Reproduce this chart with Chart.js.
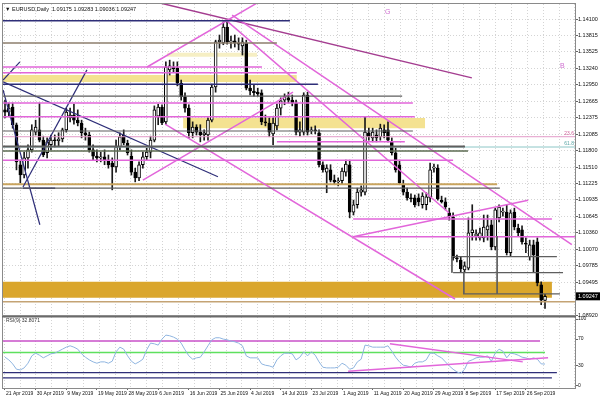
<!DOCTYPE html>
<html><head><meta charset="utf-8">
<script src="https://cdn.jsdelivr.net/npm/chart.js@4.4.1/dist/chart.umd.min.js"></script>
<style>
html,body{margin:0;padding:0;background:#fff;}
body{width:600px;height:401px;position:relative;overflow:hidden;}
canvas{position:absolute;left:0;}
#main{top:0;width:600px;height:319px;}
#rsiC{top:316px;width:600px;height:85px;}
</style></head><body>
<canvas id="main" width="600" height="319"></canvas>
<canvas id="rsiC" width="600" height="85"></canvas>
<script>
// ---------- DATA ----------
const header = ['EURUSD,Daily', 1.09175, 1.09283, 1.09036, 1.09247];
const rsiName = 'RSI(9)';
const xLabels = ['21 Apr 2019','30 Apr 2019','9 May 2019','19 May 2019','28 May 2019','6 Jun 2019','16 Jun 2019','25 Jun 2019','4 Jul 2019','14 Jul 2019','23 Jul 2019','1 Aug 2019','11 Aug 2019','20 Aug 2019','29 Aug 2019','8 Sep 2019','17 Sep 2019','26 Sep 2019'];
const labelEvery = 8;
const yTicks = [1.14100,1.13815,1.13525,1.13240,1.12950,1.12665,1.12375,1.12085,1.11800,1.11510,1.11225,1.10935,1.10645,1.10360,1.10070,1.09785,1.09495,1.08920];
const rsiTicks = [0,30,70,100];

const opens = [1.1251,1.1247,1.1256,1.1225,1.1155,1.1137,1.1167,1.1181,1.1212,1.1216,
1.1198,1.1176,1.1190,1.1198,1.1197,1.1200,1.1216,1.1237,1.1242,1.1233,
1.1228,1.1211,1.1207,1.1181,1.1170,1.1167,1.1169,1.1163,1.1158,1.1151,
1.1186,1.1207,1.1193,1.1170,1.1142,1.1132,1.1155,1.1169,1.1177,1.1198,
1.1240,1.1256,1.1230,1.1321,1.1326,1.1324,1.1298,1.1274,1.1254,1.1211,
1.1221,1.1212,1.1207,1.1207,1.1233,1.1291,1.1370,1.1368,1.1396,1.1370,
1.1372,1.1368,1.1363,1.1368,1.1289,1.1284,1.1282,1.1281,1.1230,1.1228,
1.1209,1.1223,1.1254,1.1268,1.1272,1.1268,1.1263,1.1212,1.1212,1.1277,
1.1214,1.1216,1.1211,1.1155,1.1142,1.1146,1.1128,1.1125,1.1127,1.1142,
1.1155,1.1072,1.1085,1.1107,1.1107,1.1211,1.1202,1.1207,1.1204,1.1216,
1.1216,1.1195,1.1176,1.1155,1.1120,1.1107,1.1097,1.1097,1.1097,1.1085,
1.1085,1.1097,1.1149,1.1149,1.1093,1.1090,1.1071,1.1064,1.0992,1.0988,
1.0971,1.0974,1.1036,1.1030,1.1027,1.1027,1.1041,1.1050,1.1011,1.1062,
1.1072,1.1072,1.1001,1.1072,1.1044,1.1041,1.1018,1.0994,1.1015,1.1020,
1.0945,1.09175];
const highs = [1.1268,1.1263,1.1263,1.1228,1.1163,1.1177,1.1190,1.1225,1.1233,1.1263,
1.1205,1.1202,1.1207,1.1207,1.1211,1.1219,1.1254,1.1254,1.1261,1.1251,
1.1233,1.1219,1.1212,1.1190,1.1181,1.1177,1.1181,1.1172,1.1167,1.1198,
1.1211,1.1216,1.1198,1.1181,1.1149,1.1160,1.1177,1.1184,1.1205,1.1258,
1.1261,1.1260,1.1335,1.1338,1.1335,1.1335,1.1303,1.1281,1.1260,1.1230,
1.1225,1.1225,1.1216,1.1237,1.1296,1.1373,1.1382,1.1405,1.1405,1.1380,
1.1382,1.1377,1.1377,1.1373,1.1303,1.1295,1.1289,1.1286,1.1242,1.1237,
1.1237,1.1261,1.1272,1.1279,1.1282,1.1277,1.1268,1.1230,1.1281,1.1282,
1.1221,1.1223,1.1216,1.1160,1.1155,1.1155,1.1137,1.1132,1.1149,1.1163,
1.1163,1.1093,1.1114,1.1118,1.1239,1.1219,1.1219,1.1216,1.1226,1.1225,
1.1230,1.1202,1.1184,1.1163,1.1128,1.1114,1.1104,1.1102,1.1104,1.1106,
1.1106,1.1158,1.1156,1.1155,1.1100,1.1097,1.1079,1.1071,1.0997,1.0994,
1.0985,1.1062,1.1085,1.1041,1.1044,1.1067,1.1067,1.1058,1.1079,1.1085,
1.1079,1.1085,1.1076,1.1079,1.1051,1.1048,1.1027,1.1023,1.1023,1.1027,
1.0950,1.09283];
const lows = [1.1237,1.1239,1.1219,1.1146,1.1123,1.1132,1.1149,1.1177,1.1207,1.1195,
1.1169,1.1167,1.1181,1.1186,1.1188,1.1195,1.1212,1.1230,1.1226,1.1223,
1.1202,1.1198,1.1177,1.1163,1.1160,1.1160,1.1155,1.1149,1.1111,1.1142,
1.1181,1.1190,1.1172,1.1137,1.1125,1.1127,1.1149,1.1163,1.1167,1.1195,
1.1225,1.1225,1.1225,1.1312,1.1317,1.1293,1.1268,1.1247,1.1202,1.1202,
1.1207,1.1195,1.1198,1.1198,1.1230,1.1282,1.1359,1.1365,1.1366,1.1359,
1.1361,1.1356,1.1347,1.1286,1.1277,1.1275,1.1275,1.1225,1.1223,1.1204,
1.1190,1.1216,1.1242,1.1260,1.1263,1.1258,1.1207,1.1205,1.1207,1.1207,
1.1209,1.1209,1.1151,1.1142,1.1106,1.1125,1.1120,1.1118,1.1120,1.1135,
1.1062,1.1067,1.1079,1.1100,1.1102,1.1198,1.1195,1.1195,1.1198,1.1202,
1.1195,1.1172,1.1142,1.1120,1.1102,1.1093,1.1090,1.1081,1.1083,1.1079,
1.1076,1.1090,1.1142,1.1093,1.1088,1.1076,1.1058,1.0988,1.0985,1.0967,
1.0967,1.0971,1.1023,1.1023,1.1023,1.1020,1.1023,1.1006,1.1006,1.1055,
1.1065,1.0997,1.0995,1.1041,1.1030,1.1016,1.1001,1.0988,1.0967,1.0943,
1.0910,1.09036];
const closes = [1.1247,1.1254,1.1225,1.1160,1.1137,1.1167,1.1181,1.1216,1.1221,1.1198,
1.1172,1.1195,1.1198,1.1197,1.1200,1.1216,1.1247,1.1242,1.1233,1.1228,
1.1211,1.1207,1.1181,1.1170,1.1167,1.1169,1.1163,1.1155,1.1151,1.1186,
1.1204,1.1193,1.1176,1.1142,1.1132,1.1155,1.1169,1.1177,1.1198,1.1251,
1.1256,1.1228,1.1326,1.1328,1.1323,1.1298,1.1274,1.1254,1.1211,1.1221,
1.1212,1.1207,1.1211,1.1233,1.1291,1.1370,1.1373,1.1396,1.1370,1.1372,
1.1368,1.1366,1.1370,1.1289,1.1284,1.1281,1.1279,1.1230,1.1228,1.1212,
1.1228,1.1254,1.1267,1.1274,1.1268,1.1263,1.1212,1.1216,1.1277,1.1212,
1.1216,1.1214,1.1155,1.1146,1.1149,1.1128,1.1125,1.1127,1.1144,1.1156,
1.1072,1.1085,1.1107,1.1111,1.1212,1.1204,1.1212,1.1202,1.1219,1.1211,
1.1198,1.1176,1.1146,1.1123,1.1107,1.1097,1.1095,1.1085,1.1090,1.1100,
1.1099,1.1146,1.1151,1.1095,1.1090,1.1081,1.1064,1.0992,1.0990,1.0973,
1.0978,1.1036,1.1041,1.1034,1.1036,1.1046,1.1048,1.1011,1.1076,1.1081,
1.1074,1.1001,1.1071,1.1046,1.1036,1.1020,1.1016,1.1015,1.0997,1.0948,
1.0918,1.09247];
const rsi = [43,39,33,25,24,27,34,45,49,46,
42,45,48,49,52,55,58,60,58,55,
48,43,39,36,34,36,36,34,37,51,
58,55,45,37,33,36,40,54,64,63,
61,70,76,75,73,70,64,54,45,40,
42,43,51,60,69,72,72,70,69,67,
66,64,60,45,42,42,42,33,31,30,
28,39,45,49,49,48,39,43,51,45,
51,46,36,28,27,27,27,28,34,31,
25,27,36,40,61,60,58,58,58,58,
60,52,43,36,31,30,28,34,36,36,
39,49,49,45,42,36,30,25,21,19,
25,37,39,42,43,43,45,37,49,55,
52,42,49,48,46,43,42,40,42,40,
33,32.8071];

// drawn objects: [price, fromBar, toBar]
const pinkLevels  = [[1.1326,-1,67.1],[1.1316,-1,76.2],[1.1263,-1,106.5],[1.1239,-1,107.0],[1.1195,71.0,104.4],[1.1163,-1,117.0],[1.1060,90.9,142.8],[1.1029,90.9,150]];
const navyLevels  = [[1.1407,-1,74.4],[1.1296,-1,81.7],[1.1114,4.7,13.1]];
const greyLevels  = [[1.1275,-1,103.7],[1.1214,-1,106.5],[1.1187,-1,120.1],[1.1114,-1,129.2],[1.0994,116.7,144.1],[1.0966,117.0,145.7],[1.0929,119.6,144.9]];
const oliveLevels = [[1.1179,-1,120.9]];
const brownLevels = [[1.1368,-1,71.0]];
const tanLevels   = [[1.1121,-1,128.5],[1.0915,-1,150]];
const fibLevels   = [['23.6',1.1204],['61.8',1.1186]];
// bands: [top, bottom, fromBar, toBar]
const paleBands = [[1.1351,1.1344,42.3,65.8]];
const yellowBands = [[1.1312,1.1300,-1,76.2],[1.1237,1.1219,46.5,109.7]];
const goldBands = [[1.0950,1.0922,-1,142.8]];
// vertical edges: [bar, priceA, priceB]
const greyVerticals = [[116.7,1.0994,1.0966],[119.8,1.0966,1.0929],[128.5,1.1030,1.0929]];
// trend lines: [bar1, price1, bar2, price2]
const pinkTrends = [[57.7,1.1408,115.9,1.1071],[59.3,1.1417,148.0,1.1015],[37.1,1.1326,65.8,1.1438],[41.8,1.1226,117.5,1.0920],[36.0,1.1128,75.2,1.1282],[90.9,1.1029,136.6,1.1093]];
const purpleTrends = [[40.5,1.1438,121.9,1.1307]];
const navyTrends = [[-0.5,1.1300,55.6,1.1134],[-0.5,1.1303,3.9,1.1335],[4.7,1.1116,21.4,1.1321],[-0.5,1.1286,9.1,1.1050]];
const textMarks = [['G',99.2,1.1422],['B',144.9,1.1328]];
// RSI panel objects
const rsiPinkLevels = [[67,-1,139.7]];
const rsiGreenLevels = [[50,-1,141.0]];
const rsiNavyLevels = [[20,-1,144.1],[12,-1,142.8]];
const rsiTrends = [[100.5,63,135.2,36],[89.6,22,141.8,42]];

// ---------- STYLE / LAYOUT ----------
const FONT = 'Liberation Sans, Arial, sans-serif';
const X_MIN = -0.52, X_MAX = 148.83;
const PINK = '#e266da', NAVY = '#2e2e78', GREY = '#5e5e5e', GRID = '#d4d4d4';
const gridBars = []; for (let v = 3.92 - 4.14; v < X_MAX; v += 4.14) gridBars.push(v);
const idx = opens.map((_, i) => i);

const seg = (x1, y1, x2, y2, color, w, order = 1) => ({type:'line', data:[{x:x1,y:y1},{x:x2,y:y2}], borderColor:color, borderWidth:w, pointRadius:0, fill:false, tension:0, order});
const band = (top, bot, x1, x2, color) => ({type:'line', data:[{x:x1,y:top},{x:x2,y:top}], borderColor:'rgba(0,0,0,0)', borderWidth:0, pointRadius:0, fill:{value:bot}, backgroundColor:color, order:9});

const mainSets = [];
paleBands.forEach(b => mainSets.push(band(b[0], b[1], b[2], b[3], '#f6efc4')));
yellowBands.forEach(b => mainSets.push(band(b[0], b[1], b[2], b[3], '#f4e291')));
goldBands.forEach(b => mainSets.push(band(b[0], b[1], b[2], b[3], '#daa62c')));
mainSets.push({type:'bar', data: idx.map(i => ({x:i, y:[lows[i], highs[i]]})), backgroundColor:'#1a1a1a', barThickness:1, grouped:false, order:5});
mainSets.push({type:'bar', data: idx.map(i => ({x:i, y:[opens[i], closes[i]]})), backgroundColor: idx.map(i => closes[i] >= opens[i] ? '#ffffff' : '#000000'), borderColor:'#000', borderWidth:1, borderSkipped:false, barThickness:3, grouped:false, minBarLength:1, order:4});
fibLevels.forEach((f, k) => mainSets.push(seg(-1, f[1], 150, f[1], k === 0 ? '#e39ac8' : '#8cc6c6', 1, 3)));
tanLevels.forEach((l, k) => mainSets.push(seg(l[1], l[0], l[2], l[0], k === 0 ? '#c9a45e' : '#c4a374', k === 0 ? 2 : 1.5, 2)));
brownLevels.forEach(l => mainSets.push(seg(l[1], l[0], l[2], l[0], '#8c7e6c', 1.5)));
greyLevels.forEach((l, k) => mainSets.push(seg(l[1], l[0], l[2], l[0], GREY, k === 2 ? 2 : 1.2)));
oliveLevels.forEach(l => mainSets.push(seg(l[1], l[0], l[2], l[0], '#5d6b52', 1.5)));
greyVerticals.forEach(v => mainSets.push(seg(v[0], v[1], v[0], v[2], GREY, 1)));
navyLevels.forEach(l => mainSets.push(seg(l[1], l[0], l[2], l[0], NAVY, 1.5)));
pinkLevels.forEach(l => mainSets.push(seg(l[1], l[0], l[2], l[0], PINK, 1.5)));
navyTrends.forEach(t => mainSets.push(seg(t[0], t[1], t[2], t[3], NAVY, 1.2)));
pinkTrends.forEach(t => mainSets.push(seg(t[0], t[1], t[2], t[3], PINK, 1.5)));
purpleTrends.forEach(t => mainSets.push(seg(t[0], t[1], t[2], t[3], '#a43d90', 1.5)));

const mainDeco = {
  id:'mainDeco',
  afterDraw(chart) {
    const {ctx, chartArea:a, scales:{x, y}} = chart;
    ctx.save();
    ctx.strokeStyle = '#8a8a8a'; ctx.lineWidth = 1;
    ctx.strokeRect(a.left - 0.5, a.top - 0.5, a.right - a.left + 1, a.bottom - a.top + 1);
    ctx.textBaseline = 'middle'; ctx.textAlign = 'left';
    ctx.font = '5.5px ' + FONT; ctx.fillStyle = '#111';
    ctx.fillText('\u25BC ' + header[0] + '  ' + header.slice(1).map(v => v.toFixed(5)).join(' '), a.left + 2, a.top + 5);
    ctx.font = '7px ' + FONT; ctx.fillStyle = '#cf6fd0';
    textMarks.forEach(m => ctx.fillText(m[0], x.getPixelForValue(m[1]), y.getPixelForValue(m[2])));
    ctx.font = '5px ' + FONT; ctx.textAlign = 'right'; ctx.textBaseline = 'bottom';
    fibLevels.forEach((f, k) => { ctx.fillStyle = k === 0 ? '#d0609a' : '#5aa6a6'; ctx.fillText(f[0], a.right - 1, y.getPixelForValue(f[1]) - 0.5); });
    const py = y.getPixelForValue(header[4]);
    ctx.fillStyle = '#000'; ctx.fillRect(a.right + 1, py - 4, 24, 8);
    ctx.fillStyle = '#fff'; ctx.textAlign = 'left'; ctx.textBaseline = 'middle'; ctx.font = '5.5px ' + FONT;
    ctx.fillText(header[4].toFixed(5), a.right + 3, py + 0.5);
    ctx.restore();
  }
};

new Chart(document.getElementById('main'), {
  type:'bar',
  data:{datasets: mainSets},
  options:{
    responsive:false, animation:false, events:[], devicePixelRatio:1,
    layout:{padding:{left:3, top:4, right:0, bottom:4}},
    plugins:{legend:{display:false}, tooltip:{enabled:false}},
    scales:{
      x:{type:'linear', min:X_MIN, max:X_MAX, offset:false,
         grid:{offset:false, color:GRID, drawTicks:false}, border:{display:false, dash:[1,2]},
         ticks:{display:false},
         afterBuildTicks: s => { s.ticks = gridBars.map(v => ({value:v})); },
         afterFit: s => { s.height = 0; s.paddingLeft = 0; s.paddingRight = 0; }},
      y:{position:'right', min:1.0892, max:1.14363,
         grid:{color:GRID, drawTicks:true, tickLength:3, tickColor:'#666'}, border:{display:false, dash:[1,2]},
         ticks:{padding:0, color:'#111', font:{size:5.5, family:FONT}, autoSkip:false, callback: v => v.toFixed(5)},
         afterBuildTicks: s => { s.ticks = yTicks.map(v => ({value:v})); },
         afterFit: s => { s.width = 25; s.paddingTop = 0; s.paddingBottom = 0; }}
    }
  },
  plugins:[mainDeco]
});

// ---------- RSI PANEL ----------
const rsiSets = [];
rsiNavyLevels.forEach(l => rsiSets.push(seg(l[1], l[0], l[2], l[0], NAVY, 1.2, 3)));
rsiGreenLevels.forEach(l => rsiSets.push(seg(l[1], l[0], l[2], l[0], '#5ee05e', 1.5, 3)));
rsiPinkLevels.forEach(l => rsiSets.push(seg(l[1], l[0], l[2], l[0], '#c850c8', 1.5, 3)));
rsiTrends.forEach(t => rsiSets.push(seg(t[0], t[1], t[2], t[3], PINK, 1.5, 1)));
rsiSets.push({type:'line', data: rsi.map((v, i) => ({x:i, y:v})), borderColor:'#8fb5e0', borderWidth:1, pointRadius:0, fill:false, tension:0, order:2});

const rsiDeco = {
  id:'rsiDeco',
  afterDraw(chart) {
    const {ctx, chartArea:a} = chart;
    ctx.save();
    ctx.strokeStyle = '#8a8a8a'; ctx.lineWidth = 1;
    ctx.strokeRect(a.left - 0.5, a.top - 0.5, a.right - a.left + 1, a.bottom - a.top + 1);
    ctx.fillStyle = '#6a6a6a'; ctx.fillRect(a.left - 1, 0, a.right - a.left + 2, 1.5);
    ctx.font = '5px ' + FONT; ctx.fillStyle = '#333'; ctx.textAlign = 'left'; ctx.textBaseline = 'middle';
    ctx.fillText(rsiName + ' ' + rsi[rsi.length - 1].toFixed(4), a.left + 3, a.top + 4);
    ctx.restore();
  }
};

new Chart(document.getElementById('rsiC'), {
  type:'line',
  data:{datasets: rsiSets},
  options:{
    responsive:false, animation:false, events:[], devicePixelRatio:1,
    layout:{padding:{left:3, top:1, right:0, bottom:0}},
    plugins:{legend:{display:false}, tooltip:{enabled:false}},
    scales:{
      x:{type:'linear', min:X_MIN, max:X_MAX, offset:false, position:'bottom',
         grid:{offset:false, color:GRID, drawTicks:false}, border:{display:false, dash:[1,2]},
         ticks:{display:false},
         afterBuildTicks: s => { s.ticks = gridBars.map(v => ({value:v})); },
         afterFit: s => { s.height = 0; s.paddingLeft = 0; s.paddingRight = 0; }},
      xl:{type:'linear', axis:'x', min:X_MIN, max:X_MAX, offset:false, position:'bottom',
         grid:{drawOnChartArea:false, drawTicks:true, tickLength:2, color:'#666'}, border:{display:false},
         ticks:{autoSkip:false, maxRotation:0, minRotation:0, align:'start', labelOffset:1, padding:1, color:'#111', font:{size:5, family:FONT}, callback:(v, i) => xLabels[i]},
         afterBuildTicks: s => { s.ticks = xLabels.map((_, k) => ({value:k * labelEvery})); },
         afterFit: s => { s.height = 13; s.paddingLeft = 0; s.paddingRight = 0; }},
      y:{position:'right', min:-3, max:103,
         grid:{drawOnChartArea:false, drawTicks:true, tickLength:3, color:'#666'}, border:{display:false},
         ticks:{padding:0, color:'#111', font:{size:5, family:FONT}, autoSkip:false},
         afterBuildTicks: s => { s.ticks = rsiTicks.map(v => ({value:v})); },
         afterFit: s => { s.width = 25; s.paddingTop = 0; s.paddingBottom = 0; }}
    }
  },
  plugins:[rsiDeco]
});
</script></body></html>
